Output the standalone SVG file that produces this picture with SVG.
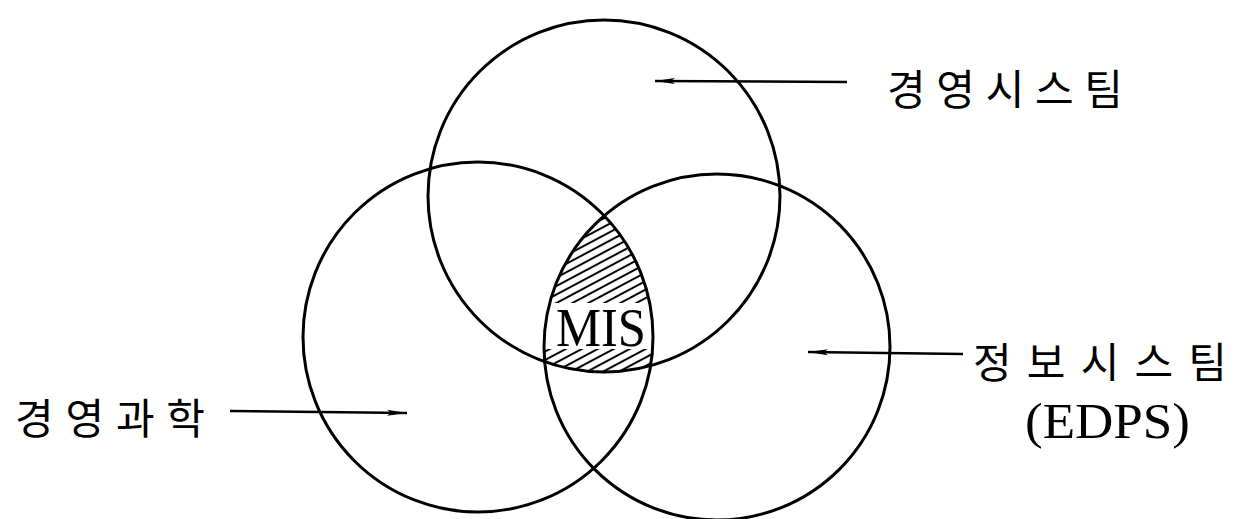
<svg xmlns="http://www.w3.org/2000/svg" width="1238" height="519" viewBox="0 0 1238 519">
<style>
.c{fill:none;stroke:#000;stroke-width:3}
.k{font-family:"Noto Sans CJK KR","Noto Sans",sans-serif;font-size:42px;font-weight:400;fill:#000}
.s{font-family:"Liberation Serif",serif;fill:#000}
.a{stroke:#000;stroke-width:2.5;fill:none;marker-end:url(#ah)}
</style>
<defs>
<marker id="ah" viewBox="0 0 20 8" refX="20" refY="4" markerWidth="20" markerHeight="8" markerUnits="userSpaceOnUse" orient="auto">
<path d="M0,1 L20,4 L0,7 L4,4 Z" fill="#000"/>
</marker>
<pattern id="hatch" patternUnits="userSpaceOnUse" width="7.5" height="7.5" patternTransform="rotate(-28)">
<line x1="0" y1="3.75" x2="7.5" y2="3.75" stroke="#000" stroke-width="2"/>
</pattern>
<clipPath id="cT"><circle cx="604" cy="196" r="176"/></clipPath>
<clipPath id="cL"><circle cx="478" cy="337" r="175"/></clipPath>
<clipPath id="cR"><circle cx="717" cy="347" r="173"/></clipPath>
</defs>
<g id="mis">
<g clip-path="url(#cT)"><g clip-path="url(#cL)"><g clip-path="url(#cR)">
<rect x="520" y="190" width="160" height="200" fill="url(#hatch)"/>
<rect x="520" y="303" width="160" height="46" fill="#fff"/>
</g></g></g>
<text class="s" x="556" y="346" font-size="54" textLength="90" lengthAdjust="spacingAndGlyphs">MIS</text>
</g>
<g id="top-circle"><circle class="c" cx="604" cy="196" r="176"/></g>
<g id="left-circle"><circle class="c" cx="478" cy="337" r="175"/></g>
<g id="right-circle"><circle class="c" cx="717" cy="347" r="173"/></g>
<g id="connectors">
<line class="a" x1="847" y1="82" x2="655" y2="81"/>
<line class="a" x1="963" y1="354" x2="808" y2="352"/>
<line class="a" x1="230" y1="411" x2="407" y2="413"/>
</g>
<g id="label-management-system"><text class="k" x="887" y="105" textLength="236" lengthAdjust="spacing">경영시스팀</text></g>
<g id="label-information-system">
<text class="k" x="973" y="378" textLength="254" lengthAdjust="spacing">정보시스팀</text>
<text class="s" x="1025" y="438" font-size="50" textLength="165" lengthAdjust="spacingAndGlyphs">(EDPS)</text>
</g>
<g id="label-management-science"><text class="k" x="15" y="434" textLength="190" lengthAdjust="spacing">경영과학</text></g>
</svg>
